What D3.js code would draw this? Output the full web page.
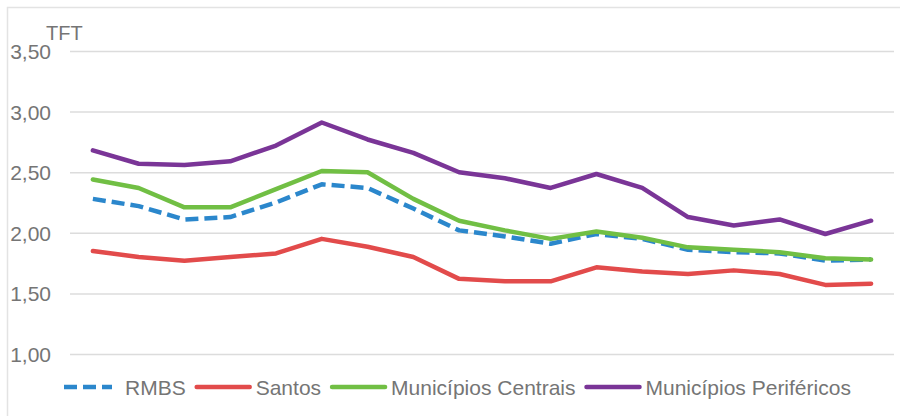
<!DOCTYPE html>
<html>
<head>
<meta charset="utf-8">
<script src="https://cdn.jsdelivr.net/npm/d3@7"></script>
<style>
  body { margin: 0; background: #fff; }
  text { font-family: "Liberation Sans", Arial, sans-serif; fill: #757575; }
</style>
</head>
<body>
<div id="chart"></div>
<script>
// Chart data (18 points per series)
var categories = d3.range(1, 19);
var yTicks = [1.0, 1.5, 2.0, 2.5, 3.0, 3.5];
var seriesNames = ["RMBS", "Santos", "Municípios Centrais", "Municípios Periféricos"];

var rmbs = [2.28, 2.22, 2.11, 2.13, 2.25, 2.40, 2.37, 2.20, 2.02, 1.97, 1.91, 1.99, 1.95, 1.86, 1.84, 1.83, 1.77, 1.78];
var santos = [1.85, 1.80, 1.77, 1.80, 1.83, 1.95, 1.885, 1.80, 1.62, 1.60, 1.60, 1.715, 1.68, 1.66, 1.69, 1.66, 1.57, 1.58];
var centrais = [2.44, 2.37, 2.21, 2.21, 2.36, 2.51, 2.50, 2.28, 2.10, 2.02, 1.95, 2.01, 1.96, 1.88, 1.86, 1.84, 1.79, 1.78];
var perifericos = [2.68, 2.57, 2.56, 2.59, 2.72, 2.91, 2.77, 2.66, 2.50, 2.45, 2.37, 2.485, 2.37, 2.13, 2.06, 2.11, 1.99, 2.10];

var colors = ["#2b87cc", "#e24b4b", "#71bf44", "#7a3597"];

// SVG area
var svgWidth = 900;
var svgHeight = 416;

var margin = { top: 51, right: 6, bottom: 62, left: 70 };
var chartWidth = svgWidth - margin.left - margin.right;
var chartHeight = svgHeight - margin.top - margin.bottom;

var svg = d3.select("#chart")
  .append("svg")
  .attr("width", svgWidth)
  .attr("height", svgHeight);

// outer frame
svg.append("rect")
  .attr("x", 7.5).attr("y", 7.5)
  .attr("width", 900).attr("height", 420)
  .attr("fill", "none")
  .attr("stroke", "#e3e3e3")
  .attr("stroke-width", 1.5);

var chartGroup = svg.append("g")
  .attr("transform", `translate(${margin.left}, ${margin.top})`);

// scales
var xScale = d3.scalePoint()
  .domain(categories)
  .range([0, chartWidth])
  .padding(0.5);

var yScale = d3.scaleLinear()
  .domain([1, 3.5])
  .range([chartHeight, 0]);

// gridlines + labels through the axis generator
var leftAxis = d3.axisLeft(yScale)
  .tickValues(yTicks)
  .tickSize(-chartWidth)
  .tickPadding(19)
  .tickFormat(d => d3.format(".2f")(d).replace(".", ","));

var yAxis = chartGroup.append("g").call(leftAxis);
yAxis.select(".domain").remove();
yAxis.selectAll(".tick line")
  .attr("stroke", "#dcdcdc")
  .attr("stroke-width", 1.5);
yAxis.selectAll(".tick text")
  .attr("font-size", 21)
  .attr("dy", "0.36em")
  .style("font-family", '"Liberation Sans", Arial, sans-serif')
  .attr("fill", "#757575");

// axis title
chartGroup.append("text")
  .attr("x", -24)
  .attr("y", -11)
  .attr("font-size", 20)
  .text("TFT");

// lines
var allSeries = [rmbs, santos, centrais, perifericos];
var line = d3.line()
  .x((d, i) => xScale(categories[i]))
  .y(d => yScale(d));

allSeries.forEach(function(values, k) {
  chartGroup.append("path")
    .datum(values)
    .attr("fill", "none")
    .attr("stroke", colors[k])
    .attr("stroke-width", 4.5)
    .attr("stroke-linejoin", "round")
    .attr("stroke-linecap", k === 0 ? "butt" : "round")
    .attr("stroke-dasharray", k === 0 ? "13,6" : null)
    .attr("d", line);
});

// legend
var legend = svg.append("g").attr("transform", "translate(62, 387)");
var xPos = 0;
seriesNames.forEach(function(name, k) {
  var item = legend.append("g").attr("transform", `translate(${xPos}, 0)`);
  item.append("line")
    .attr("x1", 2).attr("x2", k === 0 ? 50 : 55)
    .attr("y1", 0).attr("y2", 0)
    .attr("stroke", colors[k])
    .attr("stroke-width", 4.5)
    .attr("stroke-linecap", k === 0 ? "butt" : "round")
    .attr("stroke-dasharray", k === 0 ? "13,6" : null);
  var t = item.append("text")
    .attr("x", k === 0 ? 63 : 61)
    .attr("y", 0)
    .attr("dy", "0.36em")
    .attr("font-size", 21)
    .text(name);
  xPos += (k === 0 ? 63 : 61) + t.node().getComputedTextLength() + 9;
});
</script>
</body>
</html>
